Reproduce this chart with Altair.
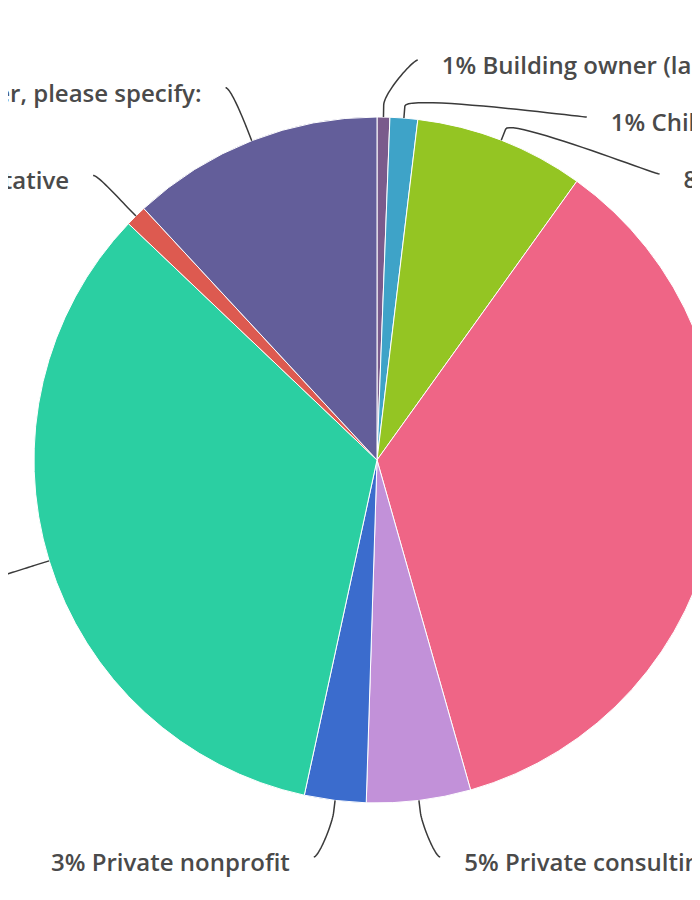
import math
import altair as alt
import pandas as pd

# ---- data ----
categories = ["Building owner (landlord)", "Child care provider", "Contractor",
              "State government", "Private consulting firm", "Private nonprofit",
              "Local government", "Tribal representative", "Other, please specify:"]
values = [0.6, 1.3, 8.0, 35.7, 4.9, 2.9, 33.7, 1.0, 11.9]
colors = ["#7a5b8c", "#3ea3c8", "#94c523", "#ef6586", "#c291d9",
          "#3b6ccd", "#2bcfa2", "#dd5a50", "#635e9a"]

# ---- layout (pixels inside the view) ----
W, H = 684, 880
CX, CY = 369, 452
R = 343
RL = 400      # label radius (vertical)
RX = 402      # label radius (horizontal)
BREAK = 12    # connector break distance outside pie
SPACING = 57
TXT_GAP = 24
TXT_DY = 14

total = sum(values)
rows = []
cum = 0.0
for i, (c, v) in enumerate(zip(categories, values)):
    mid = (cum + v / 2) / total * 2 * math.pi
    cum += v
    side = 1 if math.sin(mid) > 0 else -1
    rows.append(dict(idx=i, cat=c, value=v, mid=mid, side=side,
                     ly=CY - RL * math.cos(mid),
                     pct=f"{round(v / total * 100)}% {c}"))

# push labels apart on each side
for s in (1, -1):
    grp = sorted([r for r in rows if r["side"] == s], key=lambda r: r["ly"])
    for a, b in zip(grp, grp[1:]):
        if b["ly"] < a["ly"] + SPACING:
            b["ly"] = a["ly"] + SPACING

lines = []
texts = []
for r in rows:
    m, s = r["mid"], r["side"]
    dy = r["ly"] - CY
    lx = CX + s * math.sqrt(max(RX ** 2 - dy ** 2, 0))
    ly = r["ly"]
    tx, ty = CX + R * math.sin(m), CY - R * math.cos(m)
    bx, by = CX + (R + BREAK) * math.sin(m), CY - (R + BREAK) * math.cos(m)
    p0 = (lx, ly)
    p1 = (lx - 5 * s, ly)
    p2 = (2 * bx - tx, 2 * by - ty)
    p3 = (bx, by)
    n = 24
    k = 0
    for j in range(n + 1):
        t = j / n
        a = (1 - t) ** 3
        b = 3 * (1 - t) ** 2 * t
        c = 3 * (1 - t) * t ** 2
        d = t ** 3
        px = a * p0[0] + b * p1[0] + c * p2[0] + d * p3[0]
        py = a * p0[1] + b * p1[1] + c * p2[1] + d * p3[1]
        lines.append(dict(cat=r["cat"], step=k, x=px, y=py))
        k += 1
    lines.append(dict(cat=r["cat"], step=k, x=tx, y=ty))
    texts.append(dict(cat=r["cat"], label=r["pct"], x=lx + s * TXT_GAP, y=ly + TXT_DY,
                      align="left" if s > 0 else "right"))

slices = pd.DataFrame(rows)
line_df = pd.DataFrame(lines)
text_df = pd.DataFrame(texts)

xs = alt.Scale(domain=[0, W], range=[0, W])
ys = alt.Scale(domain=[0, H], range=[0, H])

pie = alt.Chart(slices).mark_arc(radius=R, stroke="white", strokeWidth=1, clip=True).encode(
    theta=alt.Theta("value:Q", stack=True),
    color=alt.Color("cat:N", scale=alt.Scale(domain=categories, range=colors), legend=None),
    order=alt.Order("idx:Q", sort="ascending"),
    x=alt.value(CX),
    y=alt.value(CY),
)

conn = alt.Chart(line_df).mark_line(color="#3a3a3a", strokeWidth=1.5, clip=True).encode(
    x=alt.X("x:Q", scale=xs, axis=None),
    y=alt.Y("y:Q", scale=ys, axis=None),
    detail="cat:N",
    order="step:Q",
)

def label_layer(df, align):
    return alt.Chart(df).mark_text(
        align=align, baseline="alphabetic", font="Open Sans", fontWeight=600, fontSize=24,
        color="#4a4a4a", clip=True
    ).encode(
        x=alt.X("x:Q", scale=xs, axis=None),
        y=alt.Y("y:Q", scale=ys, axis=None),
        text="label:N",
    )

txt_right = label_layer(text_df[text_df["align"] == "left"], "left")
txt_left = label_layer(text_df[text_df["align"] == "right"], "right")

chart = alt.layer(pie, conn, txt_right, txt_left).properties(
    width=W, height=H, padding=0, autosize="none", background="white"
).configure_view(stroke="transparent")

chart.save("out.html", embed_options={"renderer": "svg", "actions": False})
